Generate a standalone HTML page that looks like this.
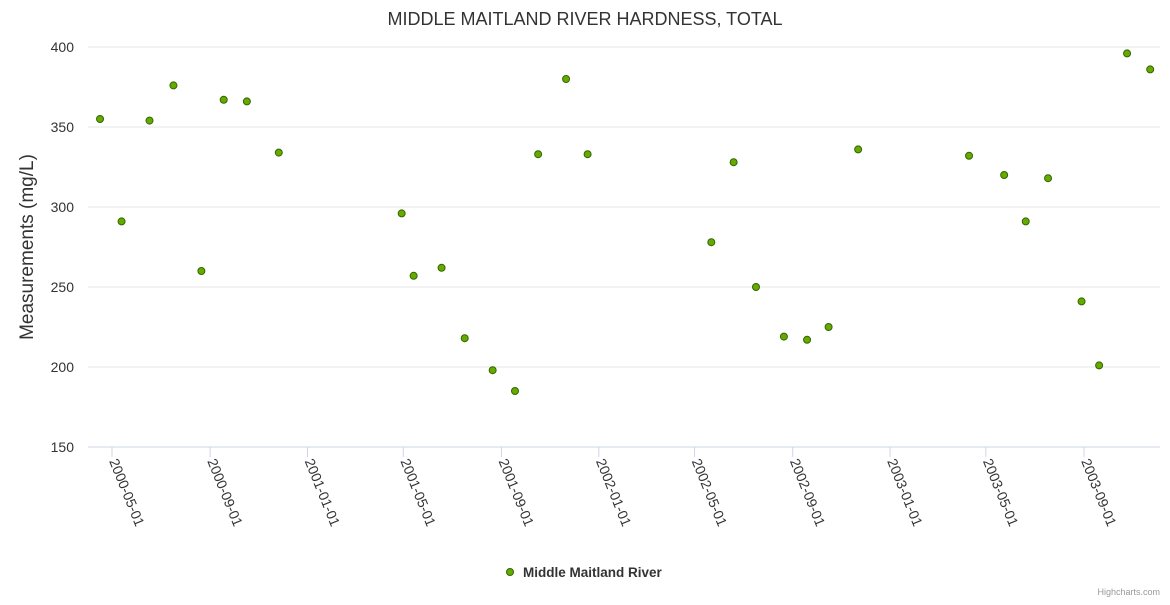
<!DOCTYPE html>
<html><head><meta charset="utf-8"><style>
body{margin:0;background:#fff;font-family:"Liberation Sans",sans-serif}
</style></head><body>
<svg id="c" width="1170" height="600" xmlns="http://www.w3.org/2000/svg">
<text x="585" y="25" text-anchor="middle" font-size="18" fill="#333">MIDDLE MAITLAND RIVER HARDNESS, TOTAL</text>
<text transform="translate(33,247) rotate(-90)" text-anchor="middle" font-size="19" fill="#333">Measurements (mg/L)</text>
<g id="grid"></g><g id="xaxis"></g><g id="pts"></g>
<g>
<circle cx="510" cy="572" r="3.5" fill="#66aa00" stroke="#336600" stroke-width="1"/>
<text x="523" y="577" font-size="13.5" font-weight="bold" fill="#333">Middle Maitland River</text>
</g>
<text x="1160" y="595" text-anchor="end" font-size="9" fill="#999">Highcharts.com</text>
</svg>
<script>
const dates=["2000-04-16","2000-05-13","2000-06-17","2000-07-17","2000-08-21","2000-09-18","2000-10-17","2000-11-26","2001-04-29","2001-05-14","2001-06-18","2001-07-17","2001-08-21","2001-09-18","2001-10-17","2001-11-21","2001-12-18","2002-05-22","2002-06-19","2002-07-17","2002-08-21","2002-09-19","2002-10-16","2002-11-22","2003-04-10","2003-05-24","2003-06-20","2003-07-18","2003-08-29","2003-09-20","2003-10-25","2003-11-23"];
const values=[355,291,354,376,260,367,366,334,296,257,262,218,198,185,333,380,333,278,328,250,219,217,225,336,332,320,291,318,241,201,396,386];
const yTicks=[150,200,250,300,350,400];
const xTicks=["2000-05-01","2000-09-01","2001-01-01","2001-05-01","2001-09-01","2002-01-01","2002-05-01","2002-09-01","2003-01-01","2003-05-01","2003-09-01"];
const NS="http://www.w3.org/2000/svg";
const day=s=>Date.parse(s+"T00:00:00Z")/864e5;
const d0=day("2000-05-01");
const X=s=>112+(day(s)-d0)*0.798;
const Y=v=>447-(v-150)*1.6;
function mk(t,a,p){const e=document.createElementNS(NS,t);for(const k in a)e.setAttribute(k,a[k]);p.appendChild(e);return e;}
const g=document.getElementById('grid');
yTicks.forEach(v=>{
 const l=mk('line',{x1:88,x2:1160,y1:Y(v),y2:Y(v),stroke:v===150?'#ccd6eb':'#e6e6e6'},g);
 
 
 const t=mk('text',{x:74,y:Y(v)+5,'text-anchor':'end','font-size':14,fill:'#333'},g);
 t.textContent=v;
 
 
});
const xa=document.getElementById('xaxis');
xTicks.forEach(s=>{
 const x=X(s);
 const l=mk('line',{x1:x,x2:x,y1:447,y2:457,stroke:'#ccd6eb'},xa);
 
 
 const t=mk('text',{transform:`translate(${x-3},461) rotate(68)`,'font-size':14,fill:'#333'},xa);
 t.textContent=s;
 
 
});
const p=document.getElementById('pts');
dates.forEach((s,i)=>{
 const c=mk('circle',{cx:X(s),cy:Y(values[i]),r:3.5,fill:'#66aa00',stroke:'#336600','stroke-width':1},p);
 
 
});
</script>
</body></html>
